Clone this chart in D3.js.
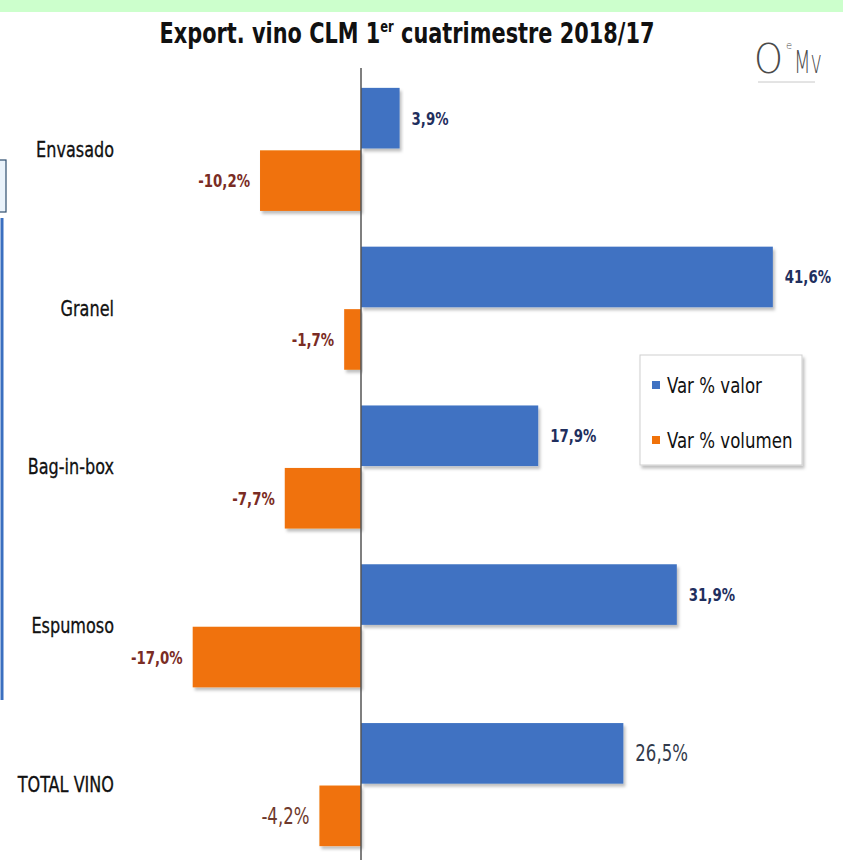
<!DOCTYPE html>
<html>
<head>
<meta charset="utf-8">
<script src="https://cdn.jsdelivr.net/npm/d3@7"></script>
<style>
  body { margin: 0; background: #fff; }
  svg { display: block; font-family: "DejaVu Sans Condensed", "DejaVu Sans", sans-serif; font-stretch: condensed; }
</style>
</head>
<body>
<svg id="chart" width="843" height="860"></svg>
<script>
// ---------------------------------------------
//  Data
// ---------------------------------------------
const categories = ["Envasado", "Granel", "Bag-in-box", "Espumoso", "TOTAL VINO"];
const varValor = [3.9, 41.6, 17.9, 31.9, 26.5];
const varVolumen = [-10.2, -1.7, -7.7, -17.0, -4.2];
const seriesNames = ["Var % valor", "Var % volumen"];
const seriesColors = ["#3f72c2", "#f07209"];
const labelColors = ["#1f2f5e", "#7a2c24"];

// Spanish decimal comma, plain hyphen for negatives
const es = d3.formatLocale({ decimal: ",", thousands: ".", grouping: [3], currency: ["", "€"], minus: "-" });
const fmt = v => es.format(".1f")(v) + "%";

// narrow the glyphs like the original (Calibri-ish) font
function squeeze(sel, k) {
  sel.each(function() {
    const w = this.getComputedTextLength();
    d3.select(this).attr("textLength", w * k).attr("lengthAdjust", "spacingAndGlyphs");
  });
}

// ---------------------------------------------
//  Setup
// ---------------------------------------------
const svg = d3.select("#chart");
const width = 843;

const defs = svg.append("defs");
const shadow = defs.append("filter").attr("id", "shadow")
  .attr("x", "-5%").attr("y", "-10%").attr("width", "115%").attr("height", "130%");
shadow.append("feDropShadow")
  .attr("dx", 2).attr("dy", 3).attr("stdDeviation", 1.5)
  .attr("flood-color", "#000").attr("flood-opacity", 0.25);

// green strip on top
svg.append("rect").attr("x", 0).attr("y", 0).attr("width", width).attr("height", 12)
  .attr("fill", "#ccffcc");

// left edge leftovers (blue line of the next slide)
svg.append("rect").attr("x", -1).attr("y", 160).attr("width", 7).attr("height", 52)
  .attr("fill", "#eaf3fb").attr("stroke", "#2f4f6f").attr("stroke-width", 1.2);
svg.append("line").attr("x1", 2).attr("x2", 2).attr("y1", 218).attr("y2", 700)
  .attr("stroke", "#3a6fc0").attr("stroke-width", 3);

// Scales
const x = d3.scaleLinear().domain([-20, 45]).range([163, 806.5]);
const y = d3.scaleBand().domain(categories).range([70, 864])
  .paddingInner(0.225).paddingOuter(0.1125);
const ySub = d3.scaleBand().domain([0, 1]).range([0, y.bandwidth()]).paddingInner(0.03);

// rows of data
const rows = [];
categories.forEach((c, i) => {
  rows.push({ cat: c, s: 0, v: varValor[i] });
  rows.push({ cat: c, s: 1, v: varVolumen[i] });
});

// ---------------------------------------------
//  Bars
// ---------------------------------------------
svg.append("g").selectAll("rect")
  .data(rows)
  .join("rect")
  .attr("x", d => x(Math.min(0, d.v)))
  .attr("width", d => Math.abs(x(d.v) - x(0)))
  .attr("y", d => y(d.cat) + ySub(d.s))
  .attr("height", ySub.bandwidth())
  .attr("fill", d => seriesColors[d.s])
  .attr("filter", "url(#shadow)");

// zero axis
svg.append("line")
  .attr("x1", x(0)).attr("x2", x(0))
  .attr("y1", 68).attr("y2", 860)
  .attr("stroke", "#555").attr("stroke-width", 1.5);

// value labels
const isTotal = d => d.cat === "TOTAL VINO";
svg.append("g").selectAll("text")
  .data(rows)
  .join("text")
  .attr("x", d => d.v >= 0 ? x(d.v) + 12 : x(d.v) - 10)
  .attr("y", d => y(d.cat) + ySub(d.s) + ySub.bandwidth() / 2)
  .attr("dy", "0.35em")
  .attr("text-anchor", d => d.v >= 0 ? "start" : "end")
  .attr("font-size", d => isTotal(d) ? 23 : 18.5)
  .attr("font-weight", d => isTotal(d) ? "normal" : "bold")
  .attr("fill", d => isTotal(d) ? (d.s ? "#6e3a2c" : "#333b4c") : labelColors[d.s])
  .text(d => fmt(d.v))
  .call(squeeze, 0.8);

// category labels
svg.append("g").selectAll("text")
  .data(categories)
  .join("text")
  .attr("x", 114)
  .attr("y", d => y(d) + y.bandwidth() / 2)
  .attr("dy", "0.35em")
  .attr("text-anchor", "end")
  .attr("font-size", 21)
  .attr("fill", "#111")
  .attr("stroke", "#111").attr("stroke-width", 0.3)
  .text(d => d)
  .call(squeeze, 0.85);

// ---------------------------------------------
//  Title + logo
// ---------------------------------------------
const titleG = svg.append("g");
const title = titleG.append("text")
  .attr("x", 0).attr("y", 0)
  .attr("text-anchor", "middle")
  .attr("font-size", 29).attr("font-weight", "bold").attr("fill", "#111");
title.append("tspan").text("Export. vino CLM 1");
title.append("tspan").attr("font-size", 16).attr("dy", -11).text("er");
title.append("tspan").attr("dy", 11).text(" cuatrimestre 2018/17");
const tw = title.node().getComputedTextLength();
titleG.attr("transform", `translate(407,43) scale(${Math.min(1, 495 / tw)},1)`);

const logo = svg.append("g").attr("fill", "#4a4a4a")
  .attr("font-family", "'DejaVu Sans', sans-serif").attr("font-weight", 200);
logo.append("text").attr("x", 754).attr("y", 73).attr("font-size", 40)
  .attr("textLength", 29).attr("lengthAdjust", "spacingAndGlyphs").text("O");
logo.append("text").attr("x", 786).attr("y", 49).attr("font-size", 10).text("e");
logo.append("text").attr("x", 794).attr("y", 73).attr("font-size", 32)
  .attr("textLength", 28).attr("lengthAdjust", "spacingAndGlyphs").text("Mv");
svg.append("line").attr("x1", 758).attr("x2", 815).attr("y1", 82).attr("y2", 82)
  .attr("stroke", "#c8c8c8").attr("stroke-width", 1);

// ---------------------------------------------
//  Legend
// ---------------------------------------------
const legend = svg.append("g").attr("transform", "translate(640,355)");
legend.append("rect")
  .attr("width", 162).attr("height", 110)
  .attr("fill", "#fff").attr("stroke", "#cfcfcf")
  .attr("filter", "url(#shadow)");
const item = legend.selectAll("g.item")
  .data(seriesNames)
  .join("g")
  .attr("class", "item")
  .attr("transform", (d, i) => `translate(12,${30 + i * 55})`);
item.append("rect")
  .attr("y", -4).attr("width", 8).attr("height", 8)
  .attr("fill", (d, i) => seriesColors[i]);
item.append("text")
  .attr("x", 15).attr("dy", "0.35em")
  .attr("font-size", 22).attr("fill", "#111")
  .text(d => d)
  .call(squeeze, 0.84);
</script>
</body>
</html>
